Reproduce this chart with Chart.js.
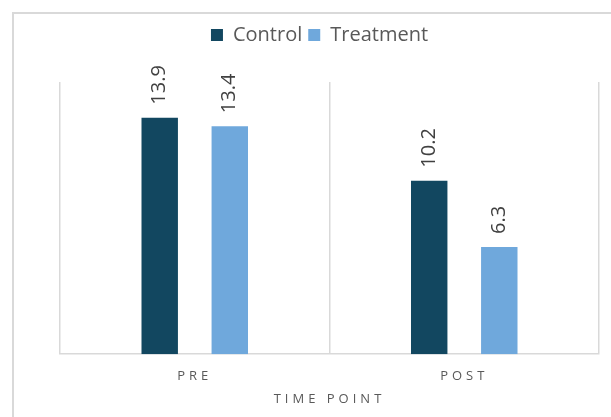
<!DOCTYPE html>
<html>
<head>
<meta charset="utf-8">
<script src="https://cdn.jsdelivr.net/npm/chart.js@4/dist/chart.umd.min.js"></script>
<style>
  html, body { margin: 0; padding: 0; background: #fff; overflow: hidden; }
  #frame { position: absolute; left: 12px; top: 12px; width: 700px; height: 500px; border: 2px solid #d9d9d9; }
  #wrap { position: absolute; left: 0; top: 0; width: 611px; height: 417px; }
</style>
</head>
<body>
<div id="frame"></div>
<div id="wrap"><canvas id="c" width="611" height="417"></canvas></div>
<script>
// Data
const timePoints = ['PRE', 'POST'];
const controlValues = [13.9, 10.2];
const treatmentValues = [13.4, 6.3];
const seriesNames = ['Control', 'Treatment'];
const axisTitle = 'TIME POINT';

const GRID = '#d9d9d9';
const TEXT = '#595959';

Chart.defaults.font.family = '"Open Sans", "Noto Sans", sans-serif';

// Rotated value labels above each bar
const barValueLabels = {
  id: 'barValueLabels',
  afterDatasetsDraw(chart) {
    const ctx = chart.ctx;
    chart.data.datasets.forEach((ds, i) => {
      const meta = chart.getDatasetMeta(i);
      meta.data.forEach((bar, j) => {
        ctx.save();
        ctx.translate(bar.x, bar.y - 13);
        ctx.rotate(-Math.PI / 2);
        ctx.font = '20px "Open Sans", sans-serif';
        ctx.fillStyle = '#404040';
        ctx.textAlign = 'left';
        ctx.textBaseline = 'middle';
        ctx.fillText(ds.data[j].toFixed(1), 0, 0);
        ctx.restore();
      });
    });
  }
};

// Letter-spaced category labels and axis title
const spacedAxisText = {
  id: 'spacedAxisText',
  beforeDraw(chart) {
    const sc = chart.scales.x;
    if (sc._spaced) return;
    ['drawLabels', 'drawTitle'].forEach(name => {
      const orig = sc[name];
      sc[name] = function (...args) {
        const ctx = this.ctx;
        ctx.save();
        ctx.letterSpacing = '4px';
        orig.apply(this, args);
        ctx.restore();
      };
    });
    sc._spaced = true;
  }
};

// Extra room between the legend and the plot
const legendSpacer = {
  id: 'legendSpacer',
  beforeInit(chart) {
    const fit = chart.legend.fit;
    chart.legend.fit = function () {
      fit.call(this);
      this.height += 27;
    };
  }
};

new Chart(document.getElementById('c'), {
  type: 'bar',
  data: {
    labels: timePoints,
    datasets: [
      { label: seriesNames[0], data: controlValues, backgroundColor: '#124760' },
      { label: seriesNames[1], data: treatmentValues, backgroundColor: '#6fa8dc' }
    ]
  },
  options: {
    responsive: false,
    animation: false,
    devicePixelRatio: 1,
    categoryPercentage: 0.52,
    barPercentage: 0.52,
    layout: { padding: { left: 40, right: 12, top: 19, bottom: 10 } },
    plugins: {
      tooltip: { enabled: false },
      legend: {
        position: 'top',
        labels: {
          boxWidth: 12,
          boxHeight: 12,
          padding: 6,
          color: TEXT,
          font: { size: 20 }
        }
      }
    },
    scales: {
      x: {
        grid: { display: true, offset: true, color: GRID, lineWidth: 1.5, drawTicks: true, tickLength: 7, tickColor: 'rgba(0,0,0,0)' },
        border: { display: true, color: GRID, width: 1.5 },
        ticks: { color: TEXT, font: { size: 13 }, padding: 7 },
        title: { display: true, text: axisTitle, color: TEXT, font: { size: 13 }, padding: { top: 0.6, bottom: 0 } }
      },
      y: {
        min: 0,
        max: 16,
        grid: { display: false },
        border: { display: false },
        ticks: { display: false },
        afterFit(scale) { scale.width = 20; }
      }
    }
  },
  plugins: [barValueLabels, spacedAxisText, legendSpacer]
});
</script>
</body>
</html>
